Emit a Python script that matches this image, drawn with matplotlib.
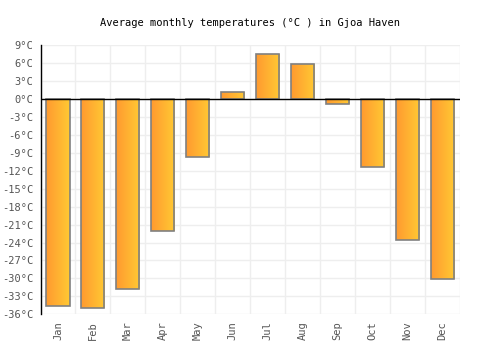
import numpy as np
import matplotlib
matplotlib.use('Agg')
import matplotlib.pyplot as plt
from matplotlib.colors import LinearSegmentedColormap

# Data
months = ['Jan', 'Feb', 'Mar', 'Apr', 'May', 'Jun',
          'Jul', 'Aug', 'Sep', 'Oct', 'Nov', 'Dec']
temps = [-34.6, -34.9, -31.7, -22.0, -9.7, 1.1,
         7.5, 5.8, -0.9, -11.3, -23.5, -30.1]
yticks = list(range(-36, 10, 3))

plt.rcParams['font.family'] = ['DejaVu Sans Mono']

fig = plt.figure(figsize=(5, 3.5), dpi=100)
ax = fig.add_axes([0.081, 0.102, 0.839, 0.769])

x = np.arange(len(months))
bars = ax.bar(x, temps, width=0.66, color='none', edgecolor='#808080',
              linewidth=1.2, zorder=3)

# Orange-to-yellow horizontal gradient inside each bar
cmap = LinearSegmentedColormap.from_list('oy', ['#ff9a30', '#ffc933'])
grad = np.linspace(0, 1, 64).reshape(1, -1)
for b in bars:
    x0 = b.get_x()
    w = b.get_width()
    y0 = b.get_y()
    h = b.get_height()
    im = ax.imshow(grad, cmap=cmap, aspect='auto', zorder=2,
                   extent=[x0, x0 + w, min(y0, y0 + h), max(y0, y0 + h)])
    im.set_clip_path(b)

ax.set_xlim(-0.5, len(months) - 0.5)
ax.set_ylim(-36, 9)
ax.set_yticks(yticks)
ax.set_yticklabels(['%d°C' % t for t in yticks])
ax.set_xticks(x)
ax.set_xticklabels(months, rotation=90)

ax.set_xticks(np.arange(-0.5, len(months), 1), minor=True)
ax.grid(which='minor', axis='x', color='#eeeeee', linewidth=1, zorder=0)
ax.grid(which='major', axis='y', color='#eeeeee', linewidth=1, zorder=0)
ax.tick_params(which='both', length=0)
ax.tick_params(axis='both', labelsize=7.5, colors='#555555')
ax.tick_params(axis='y', pad=5)
ax.tick_params(axis='x', pad=5)

for s in ['top', 'right', 'bottom']:
    ax.spines[s].set_visible(False)
ax.spines['left'].set_color('black')
ax.spines['left'].set_linewidth(1)
ax.axhline(0, color='black', linewidth=1, zorder=4)

fig.suptitle('Average monthly temperatures (°C ) in Gjoa Haven',
             fontsize=7.5, y=0.95)

plt.savefig('out.png', dpi=100)
